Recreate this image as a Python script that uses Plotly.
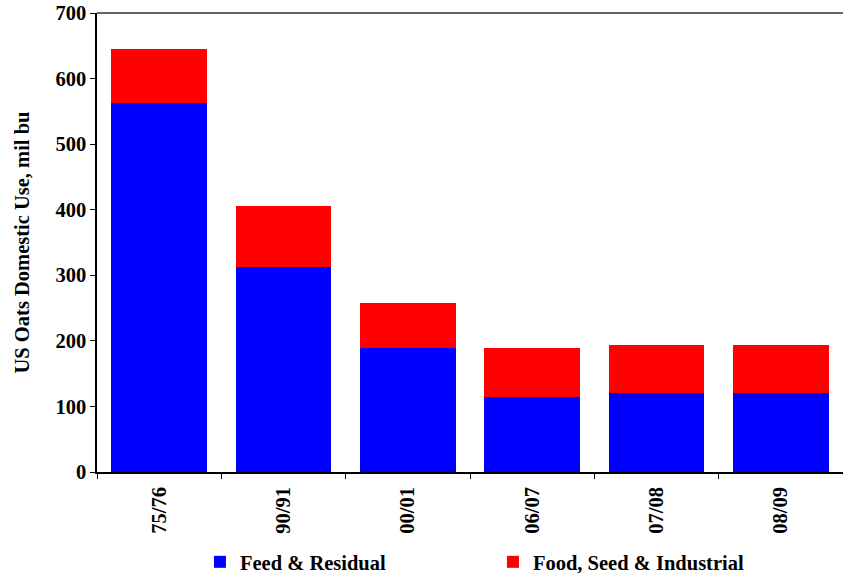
import plotly.graph_objects as go

# US oats domestic use by marketing year, million bushels
years = ["75/76", "90/91", "00/01", "06/07", "07/08", "08/09"]
feed_residual = [562, 312, 189, 115, 120, 120]
food_seed_industrial = [83, 94, 68, 74, 73, 73]

FONT = "Liberation Serif, Times New Roman, serif"
SIZE = 20.5

fig = go.Figure()
fig.add_trace(go.Bar(x=years, y=feed_residual, name="Feed & Residual",
                     marker=dict(color="#0000FF", line=dict(width=0))))
fig.add_trace(go.Bar(x=years, y=food_seed_industrial, name="Food, Seed & Industrial",
                     marker=dict(color="#FF0000", line=dict(width=0))))

fig.update_layout(
    barmode="stack",
    bargap=0.23,
    width=843, height=577,
    margin=dict(l=97, r=0, t=13, b=105),
    paper_bgcolor="white", plot_bgcolor="white",
    font=dict(family=FONT, size=SIZE, color="black", weight="bold"),
    showlegend=True,
    legend=dict(orientation="h", x=0.138, xanchor="left",
                yref="container", y=(577 - 562) / 577, yanchor="middle",
                font=dict(size=SIZE, family=FONT, weight="bold"),
                entrywidth=248, entrywidthmode="pixels", traceorder="normal"),
    xaxis=dict(showline=True, linecolor="black", linewidth=1.5,
               ticks="outside", ticklen=5, tickcolor="black", tickson="boundaries",
               tickangle=-90, ticklabelstandoff=5,
               tickfont=dict(size=SIZE, family=FONT, weight="bold"),
               showgrid=False, automargin=False),
    yaxis=dict(range=[0, 700], dtick=100, showline=True, linecolor="black", linewidth=1.5,
               ticks="outside", ticklen=5, tickcolor="black", showgrid=False, zeroline=False,
               tickfont=dict(size=SIZE, family=FONT, weight="bold"), automargin=False,
               title=dict(text="US Oats Domestic Use, mil bu", standoff=20,
                          font=dict(size=SIZE, family=FONT, weight="bold"))),
    shapes=[dict(type="line", xref="paper", yref="paper", x0=0, x1=1, y0=1, y1=1,
                 line=dict(color="#666666", width=2))],
)

fig.write_html("out.html")
